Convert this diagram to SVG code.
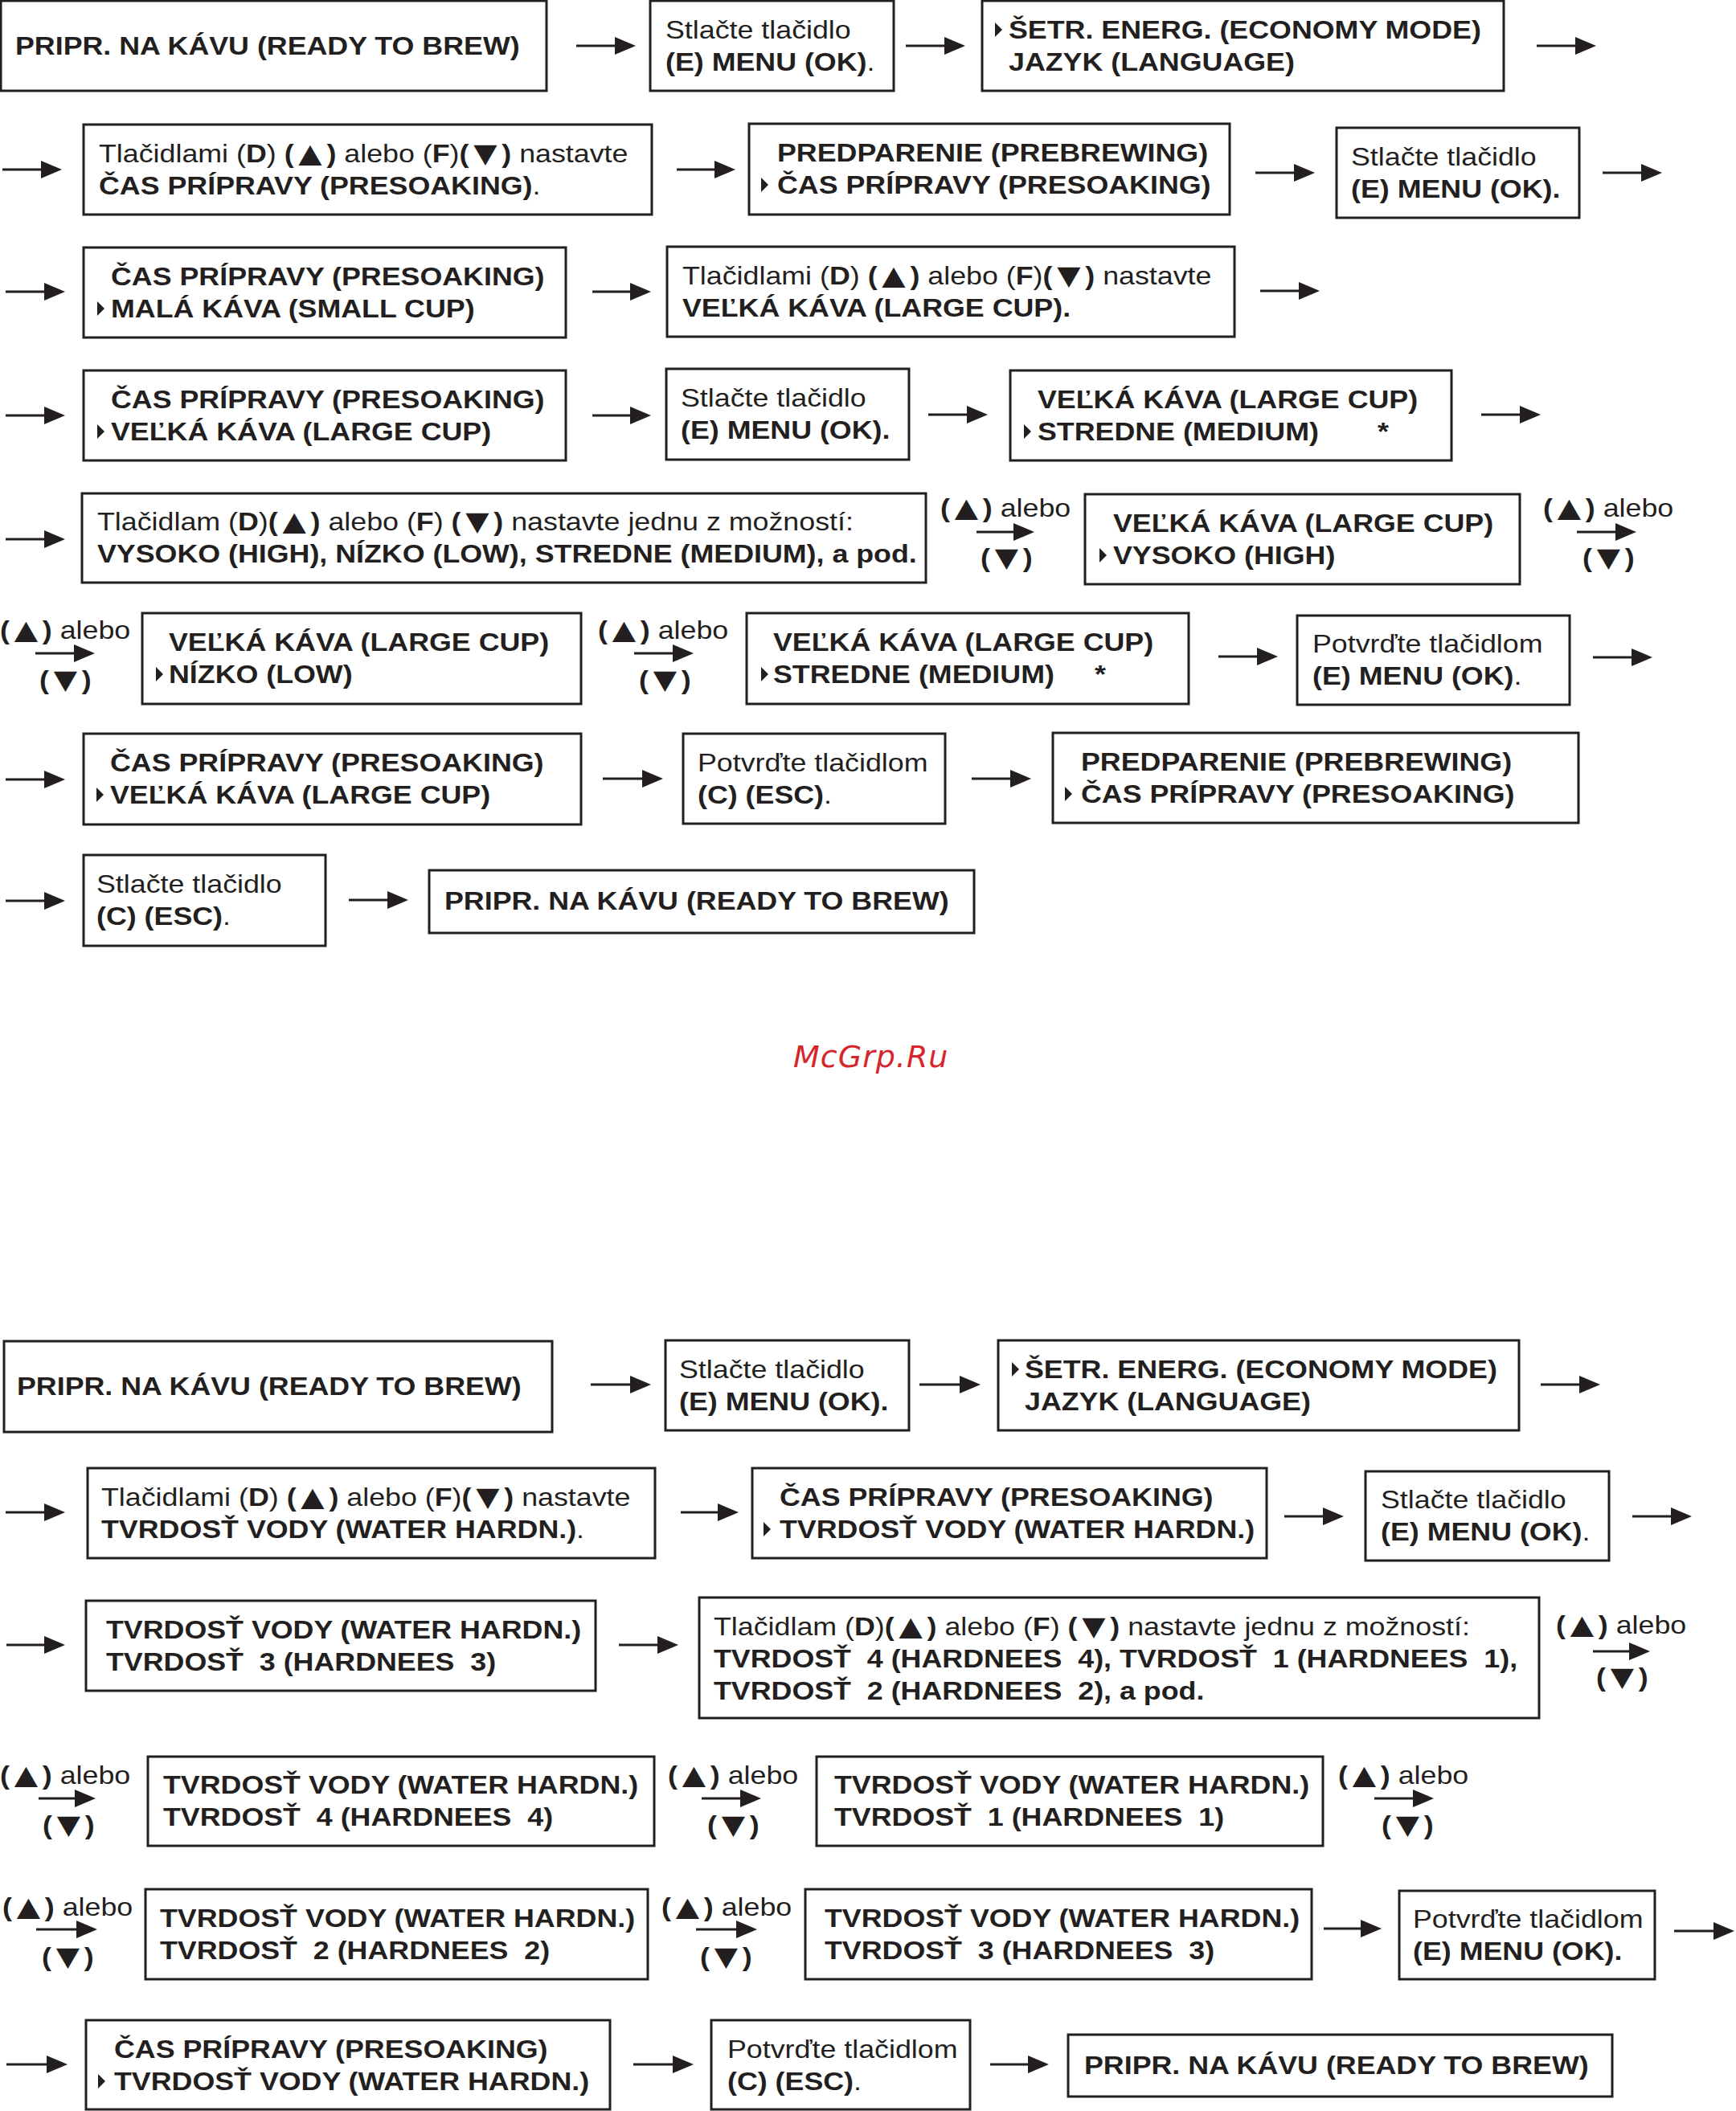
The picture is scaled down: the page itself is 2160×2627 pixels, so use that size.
<svg xmlns="http://www.w3.org/2000/svg" xmlns:xlink="http://www.w3.org/1999/xlink" width="2160" height="2627" viewBox="0 0 2160 2627">
<style>
.t{font-family:"Liberation Sans",Arial,sans-serif;font-size:31px;fill:#231f20;white-space:pre}
.b{font-weight:bold}
.tri{font-family:"DejaVu Sans",sans-serif;font-size:33px}
.box{fill:#fff;stroke:#231f20;stroke-width:3}
.ar{fill:none;stroke:#231f20;stroke-width:3;marker-end:url(#ah)}
.wm{font-family:"DejaVu Sans",Verdana,sans-serif;font-style:italic;font-size:38px;fill:#d6262b;letter-spacing:1px}
</style>
<defs>
<marker id="ah" markerUnits="userSpaceOnUse" markerWidth="26" markerHeight="22" refX="14" refY="11" orient="auto"><path d="M0,0 L26,11 L0,22 Z" fill="#231f20"/></marker>
<path id="ptr" d="M0,-20 L9,-11 L0,-2 Z" fill="#231f20"/>
</defs>
<rect width="2160" height="2627" fill="#fff"/>
<g id="connectors">
<path class="ar" d="M717,57 H779"/>
<path class="ar" d="M1127,57 H1189"/>
<path class="ar" d="M1912,57 H1974"/>
<path class="ar" d="M3,211 H65"/>
<path class="ar" d="M842,211 H903"/>
<path class="ar" d="M1562,215 H1624"/>
<path class="ar" d="M1994,215 H2056"/>
<path class="ar" d="M7,363 H69"/>
<path class="ar" d="M737,363 H798"/>
<path class="ar" d="M1568,362 H1630"/>
<path class="ar" d="M7,517 H69"/>
<path class="ar" d="M737,517 H798"/>
<path class="ar" d="M1155,516 H1217"/>
<path class="ar" d="M1843,516 H1905"/>
<path class="ar" d="M7,671 H69"/>
<path class="ar" d="M1215,662 H1275"/>
<path class="ar" d="M1962,662 H2024"/>
<path class="ar" d="M44,813 H106"/>
<path class="ar" d="M789,813 H851"/>
<path class="ar" d="M1516,817 H1578"/>
<path class="ar" d="M1982,818 H2044"/>
<path class="ar" d="M7,970 H69"/>
<path class="ar" d="M750,969 H813"/>
<path class="ar" d="M1209,969 H1271"/>
<path class="ar" d="M7,1121 H69"/>
<path class="ar" d="M434,1120 H496"/>
<path class="ar" d="M735,1723 H798"/>
<path class="ar" d="M1144,1723 H1208"/>
<path class="ar" d="M1917,1723 H1979"/>
<path class="ar" d="M7,1882 H69"/>
<path class="ar" d="M847,1882 H907"/>
<path class="ar" d="M1598,1887 H1660"/>
<path class="ar" d="M2031,1887 H2093"/>
<path class="ar" d="M8,2047 H69"/>
<path class="ar" d="M770,2047 H832"/>
<path class="ar" d="M1982,2055 H2041"/>
<path class="ar" d="M48,2238 H107"/>
<path class="ar" d="M873,2238 H935"/>
<path class="ar" d="M1710,2238 H1772"/>
<path class="ar" d="M45,2401 H109"/>
<path class="ar" d="M866,2401 H930"/>
<path class="ar" d="M1647,2400 H1707"/>
<path class="ar" d="M2083,2403 H2146"/>
<path class="ar" d="M8,2569 H72"/>
<path class="ar" d="M788,2569 H851"/>
<path class="ar" d="M1232,2569 H1293"/>
</g>
<g id="n1"><rect class="box" x="1" y="1" width="679" height="112"/><text class="t b" transform="matrix(1.155 0 0 1 19 68)">PRIPR. NA KÁVU (READY TO BREW)</text></g>
<g id="n2"><rect class="box" x="809" y="1" width="303" height="112"/><text class="t" transform="matrix(1.155 0 0 1 828 48)">Stlačte tlačidlo</text><text class="t" transform="matrix(1.155 0 0 1 828 88)"><tspan class="b">(E) MENU (OK)</tspan>.</text></g>
<g id="n3"><rect class="box" x="1222" y="1" width="649" height="112"/><use href="#ptr" x="1238" y="48"/><text class="t b" transform="matrix(1.155 0 0 1 1255 48)">ŠETR. ENERG. (ECONOMY MODE)</text><text class="t b" transform="matrix(1.155 0 0 1 1255 88)">JAZYK (LANGUAGE)</text></g>
<g id="n4"><rect class="box" x="104" y="155" width="707" height="112"/><text class="t" transform="matrix(1.155 0 0 1 123 202)">Tlačidlami (<tspan class="b">D</tspan>) <tspan class="b">(<tspan class="tri" dx="5">▲</tspan><tspan dx="5">)</tspan></tspan> alebo (<tspan class="b">F</tspan>)<tspan class="b">(<tspan class="tri" dx="5">▼</tspan><tspan dx="5">)</tspan></tspan> nastavte</text><text class="t" transform="matrix(1.155 0 0 1 123 242)"><tspan class="b">ČAS PRÍPRAVY (PRESOAKING)</tspan>.</text></g>
<g id="n5"><rect class="box" x="932" y="154" width="598" height="113"/><text class="t b" transform="matrix(1.155 0 0 1 967 201)">PREDPARENIE (PREBREWING)</text><use href="#ptr" x="947" y="241"/><text class="t b" transform="matrix(1.155 0 0 1 967 241)">ČAS PRÍPRAVY (PRESOAKING)</text></g>
<g id="n6"><rect class="box" x="1663" y="159" width="302" height="112"/><text class="t" transform="matrix(1.155 0 0 1 1681 206)">Stlačte tlačidlo</text><text class="t b" transform="matrix(1.155 0 0 1 1681 246)">(E) MENU (OK).</text></g>
<g id="n7"><rect class="box" x="104" y="308" width="600" height="112"/><text class="t b" transform="matrix(1.155 0 0 1 138 355)">ČAS PRÍPRAVY (PRESOAKING)</text><use href="#ptr" x="121" y="395"/><text class="t b" transform="matrix(1.155 0 0 1 138 395)">MALÁ KÁVA (SMALL CUP)</text></g>
<g id="n8"><rect class="box" x="830" y="307" width="706" height="112"/><text class="t" transform="matrix(1.155 0 0 1 849 354)">Tlačidlami (<tspan class="b">D</tspan>) <tspan class="b">(<tspan class="tri" dx="5">▲</tspan><tspan dx="5">)</tspan></tspan> alebo (<tspan class="b">F</tspan>)<tspan class="b">(<tspan class="tri" dx="5">▼</tspan><tspan dx="5">)</tspan></tspan> nastavte</text><text class="t b" transform="matrix(1.155 0 0 1 849 394)">VEĽKÁ KÁVA (LARGE CUP).</text></g>
<g id="n9"><rect class="box" x="104" y="461" width="600" height="112"/><text class="t b" transform="matrix(1.155 0 0 1 138 508)">ČAS PRÍPRAVY (PRESOAKING)</text><use href="#ptr" x="121" y="548"/><text class="t b" transform="matrix(1.155 0 0 1 138 548)">VEĽKÁ KÁVA (LARGE CUP)</text></g>
<g id="n10"><rect class="box" x="829" y="459" width="302" height="113"/><text class="t" transform="matrix(1.155 0 0 1 847 506)">Stlačte tlačidlo</text><text class="t b" transform="matrix(1.155 0 0 1 847 546)">(E) MENU (OK).</text></g>
<g id="n11"><rect class="box" x="1257" y="461" width="549" height="112"/><text class="t b" transform="matrix(1.155 0 0 1 1291 508)">VEĽKÁ KÁVA (LARGE CUP)</text><use href="#ptr" x="1274" y="548"/><text class="t b" transform="matrix(1.155 0 0 1 1291 548)">STREDNE (MEDIUM)</text><text class="t b" transform="matrix(1.155 0 0 1 1714 548)">*</text></g>
<g id="n12"><rect class="box" x="102" y="614" width="1050" height="111"/><text class="t" transform="matrix(1.155 0 0 1 121 660)">Tlačidlam (<tspan class="b">D</tspan>)<tspan class="b">(<tspan class="tri" dx="5">▲</tspan><tspan dx="5">)</tspan></tspan> alebo (<tspan class="b">F</tspan>) <tspan class="b">(<tspan class="tri" dx="5">▼</tspan><tspan dx="5">)</tspan></tspan> nastavte jednu z možností:</text><text class="t b" transform="matrix(1.155 0 0 1 121 700)">VYSOKO (HIGH), NÍZKO (LOW), STREDNE (MEDIUM), a pod.</text></g>
<g id="l1"><text class="t" transform="matrix(1.155 0 0 1 1170 643)"><tspan class="b">(<tspan class="tri" dx="5">▲</tspan><tspan dx="5">)</tspan></tspan> alebo</text><text class="t b" transform="matrix(1.155 0 0 1 1220 705)">(<tspan class="tri" dx="5">▼</tspan><tspan dx="5">)</tspan></text></g>
<g id="n13"><rect class="box" x="1350" y="615" width="541" height="112"/><text class="t b" transform="matrix(1.155 0 0 1 1385 662)">VEĽKÁ KÁVA (LARGE CUP)</text><use href="#ptr" x="1368" y="702"/><text class="t b" transform="matrix(1.155 0 0 1 1385 702)">VYSOKO (HIGH)</text></g>
<g id="l2"><text class="t" transform="matrix(1.155 0 0 1 1920 643)"><tspan class="b">(<tspan class="tri" dx="5">▲</tspan><tspan dx="5">)</tspan></tspan> alebo</text><text class="t b" transform="matrix(1.155 0 0 1 1969 705)">(<tspan class="tri" dx="5">▼</tspan><tspan dx="5">)</tspan></text></g>
<g id="l3"><text class="t" transform="matrix(1.155 0 0 1 0 795)"><tspan class="b">(<tspan class="tri" dx="5">▲</tspan><tspan dx="5">)</tspan></tspan> alebo</text><text class="t b" transform="matrix(1.155 0 0 1 49 857)">(<tspan class="tri" dx="5">▼</tspan><tspan dx="5">)</tspan></text></g>
<g id="n14"><rect class="box" x="177" y="763" width="546" height="113"/><text class="t b" transform="matrix(1.155 0 0 1 210 810)">VEĽKÁ KÁVA (LARGE CUP)</text><use href="#ptr" x="194" y="850"/><text class="t b" transform="matrix(1.155 0 0 1 210 850)">NÍZKO (LOW)</text></g>
<g id="l4"><text class="t" transform="matrix(1.155 0 0 1 744 795)"><tspan class="b">(<tspan class="tri" dx="5">▲</tspan><tspan dx="5">)</tspan></tspan> alebo</text><text class="t b" transform="matrix(1.155 0 0 1 795 857)">(<tspan class="tri" dx="5">▼</tspan><tspan dx="5">)</tspan></text></g>
<g id="n15"><rect class="box" x="929" y="763" width="550" height="113"/><text class="t b" transform="matrix(1.155 0 0 1 962 810)">VEĽKÁ KÁVA (LARGE CUP)</text><use href="#ptr" x="947" y="850"/><text class="t b" transform="matrix(1.155 0 0 1 962 850)">STREDNE (MEDIUM)</text><text class="t b" transform="matrix(1.155 0 0 1 1362 850)">*</text></g>
<g id="n16"><rect class="box" x="1614" y="766" width="339" height="111"/><text class="t" transform="matrix(1.155 0 0 1 1633 812)">Potvrďte tlačidlom</text><text class="t" transform="matrix(1.155 0 0 1 1633 852)"><tspan class="b">(E) MENU (OK)</tspan>.</text></g>
<g id="n17"><rect class="box" x="104" y="913" width="619" height="113"/><text class="t b" transform="matrix(1.155 0 0 1 137 960)">ČAS PRÍPRAVY (PRESOAKING)</text><use href="#ptr" x="120" y="1000"/><text class="t b" transform="matrix(1.155 0 0 1 137 1000)">VEĽKÁ KÁVA (LARGE CUP)</text></g>
<g id="n18"><rect class="box" x="850" y="913" width="326" height="112"/><text class="t" transform="matrix(1.155 0 0 1 868 960)">Potvrďte tlačidlom</text><text class="t" transform="matrix(1.155 0 0 1 868 1000)"><tspan class="b">(C) (ESC)</tspan>.</text></g>
<g id="n19"><rect class="box" x="1310" y="912" width="654" height="112"/><text class="t b" transform="matrix(1.155 0 0 1 1345 959)">PREDPARENIE (PREBREWING)</text><use href="#ptr" x="1325" y="999"/><text class="t b" transform="matrix(1.155 0 0 1 1345 999)">ČAS PRÍPRAVY (PRESOAKING)</text></g>
<g id="n20"><rect class="box" x="104" y="1064" width="301" height="113"/><text class="t" transform="matrix(1.155 0 0 1 120 1111)">Stlačte tlačidlo</text><text class="t" transform="matrix(1.155 0 0 1 120 1151)"><tspan class="b">(C) (ESC)</tspan>.</text></g>
<g id="n21"><rect class="box" x="534" y="1083" width="678" height="78"/><text class="t b" transform="matrix(1.155 0 0 1 553 1132)">PRIPR. NA KÁVU (READY TO BREW)</text></g>
<text class="wm" x="987" y="1328">McGrp.Ru</text>
<g id="n22"><rect class="box" x="5" y="1669" width="682" height="113"/><text class="t b" transform="matrix(1.155 0 0 1 21 1736)">PRIPR. NA KÁVU (READY TO BREW)</text></g>
<g id="n23"><rect class="box" x="828" y="1668" width="303" height="112"/><text class="t" transform="matrix(1.155 0 0 1 845 1715)">Stlačte tlačidlo</text><text class="t b" transform="matrix(1.155 0 0 1 845 1755)">(E) MENU (OK).</text></g>
<g id="n24"><rect class="box" x="1242" y="1668" width="648" height="112"/><use href="#ptr" x="1259" y="1715"/><text class="t b" transform="matrix(1.155 0 0 1 1275 1715)">ŠETR. ENERG. (ECONOMY MODE)</text><text class="t b" transform="matrix(1.155 0 0 1 1275 1755)">JAZYK (LANGUAGE)</text></g>
<g id="n25"><rect class="box" x="109" y="1827" width="706" height="112"/><text class="t" transform="matrix(1.155 0 0 1 126 1874)">Tlačidlami (<tspan class="b">D</tspan>) <tspan class="b">(<tspan class="tri" dx="5">▲</tspan><tspan dx="5">)</tspan></tspan> alebo (<tspan class="b">F</tspan>)<tspan class="b">(<tspan class="tri" dx="5">▼</tspan><tspan dx="5">)</tspan></tspan> nastavte</text><text class="t" transform="matrix(1.155 0 0 1 126 1914)"><tspan class="b">TVRDOSŤ VODY (WATER HARDN.)</tspan>.</text></g>
<g id="n26"><rect class="box" x="936" y="1827" width="640" height="112"/><text class="t b" transform="matrix(1.155 0 0 1 970 1874)">ČAS PRÍPRAVY (PRESOAKING)</text><use href="#ptr" x="950" y="1914"/><text class="t b" transform="matrix(1.155 0 0 1 970 1914)">TVRDOSŤ VODY (WATER HARDN.)</text></g>
<g id="n27"><rect class="box" x="1699" y="1831" width="303" height="111"/><text class="t" transform="matrix(1.155 0 0 1 1718 1877)">Stlačte tlačidlo</text><text class="t" transform="matrix(1.155 0 0 1 1718 1917)"><tspan class="b">(E) MENU (OK)</tspan>.</text></g>
<g id="n28"><rect class="box" x="107" y="1992" width="634" height="112"/><text class="t b" transform="matrix(1.155 0 0 1 132 2039)">TVRDOSŤ VODY (WATER HARDN.)</text><text class="t b" transform="matrix(1.155 0 0 1 132 2079)">TVRDOSŤ  3 (HARDNEES  3)</text></g>
<g id="n29"><rect class="box" x="870" y="1988" width="1045" height="150"/><text class="t" transform="matrix(1.155 0 0 1 888 2035)">Tlačidlam (<tspan class="b">D</tspan>)<tspan class="b">(<tspan class="tri" dx="5">▲</tspan><tspan dx="5">)</tspan></tspan> alebo (<tspan class="b">F</tspan>) <tspan class="b">(<tspan class="tri" dx="5">▼</tspan><tspan dx="5">)</tspan></tspan> nastavte jednu z možností:</text><text class="t b" transform="matrix(1.155 0 0 1 888 2075)">TVRDOSŤ  4 (HARDNEES  4), TVRDOSŤ  1 (HARDNEES  1),</text><text class="t b" transform="matrix(1.155 0 0 1 888 2115)">TVRDOSŤ  2 (HARDNEES  2), a pod.</text></g>
<g id="l5"><text class="t" transform="matrix(1.155 0 0 1 1936 2033)"><tspan class="b">(<tspan class="tri" dx="5">▲</tspan><tspan dx="5">)</tspan></tspan> alebo</text><text class="t b" transform="matrix(1.155 0 0 1 1986 2098)">(<tspan class="tri" dx="5">▼</tspan><tspan dx="5">)</tspan></text></g>
<g id="l6"><text class="t" transform="matrix(1.155 0 0 1 0 2220)"><tspan class="b">(<tspan class="tri" dx="5">▲</tspan><tspan dx="5">)</tspan></tspan> alebo</text><text class="t b" transform="matrix(1.155 0 0 1 53 2282)">(<tspan class="tri" dx="5">▼</tspan><tspan dx="5">)</tspan></text></g>
<g id="n30"><rect class="box" x="184" y="2186" width="630" height="111"/><text class="t b" transform="matrix(1.155 0 0 1 203 2232)">TVRDOSŤ VODY (WATER HARDN.)</text><text class="t b" transform="matrix(1.155 0 0 1 203 2272)">TVRDOSŤ  4 (HARDNEES  4)</text></g>
<g id="l7"><text class="t" transform="matrix(1.155 0 0 1 831 2220)"><tspan class="b">(<tspan class="tri" dx="5">▲</tspan><tspan dx="5">)</tspan></tspan> alebo</text><text class="t b" transform="matrix(1.155 0 0 1 880 2282)">(<tspan class="tri" dx="5">▼</tspan><tspan dx="5">)</tspan></text></g>
<g id="n31"><rect class="box" x="1016" y="2186" width="630" height="111"/><text class="t b" transform="matrix(1.155 0 0 1 1038 2232)">TVRDOSŤ VODY (WATER HARDN.)</text><text class="t b" transform="matrix(1.155 0 0 1 1038 2272)">TVRDOSŤ  1 (HARDNEES  1)</text></g>
<g id="l8"><text class="t" transform="matrix(1.155 0 0 1 1665 2220)"><tspan class="b">(<tspan class="tri" dx="5">▲</tspan><tspan dx="5">)</tspan></tspan> alebo</text><text class="t b" transform="matrix(1.155 0 0 1 1719 2282)">(<tspan class="tri" dx="5">▼</tspan><tspan dx="5">)</tspan></text></g>
<g id="l9"><text class="t" transform="matrix(1.155 0 0 1 3 2384)"><tspan class="b">(<tspan class="tri" dx="5">▲</tspan><tspan dx="5">)</tspan></tspan> alebo</text><text class="t b" transform="matrix(1.155 0 0 1 52 2446)">(<tspan class="tri" dx="5">▼</tspan><tspan dx="5">)</tspan></text></g>
<g id="n32"><rect class="box" x="181" y="2351" width="625" height="112"/><text class="t b" transform="matrix(1.155 0 0 1 199 2398)">TVRDOSŤ VODY (WATER HARDN.)</text><text class="t b" transform="matrix(1.155 0 0 1 199 2438)">TVRDOSŤ  2 (HARDNEES  2)</text></g>
<g id="l10"><text class="t" transform="matrix(1.155 0 0 1 823 2384)"><tspan class="b">(<tspan class="tri" dx="5">▲</tspan><tspan dx="5">)</tspan></tspan> alebo</text><text class="t b" transform="matrix(1.155 0 0 1 871 2446)">(<tspan class="tri" dx="5">▼</tspan><tspan dx="5">)</tspan></text></g>
<g id="n33"><rect class="box" x="1002" y="2351" width="630" height="112"/><text class="t b" transform="matrix(1.155 0 0 1 1026 2398)">TVRDOSŤ VODY (WATER HARDN.)</text><text class="t b" transform="matrix(1.155 0 0 1 1026 2438)">TVRDOSŤ  3 (HARDNEES  3)</text></g>
<g id="n34"><rect class="box" x="1741" y="2353" width="318" height="110"/><text class="t" transform="matrix(1.155 0 0 1 1758 2399)">Potvrďte tlačidlom</text><text class="t b" transform="matrix(1.155 0 0 1 1758 2439)">(E) MENU (OK).</text></g>
<g id="n35"><rect class="box" x="107" y="2514" width="652" height="111"/><text class="t b" transform="matrix(1.155 0 0 1 142 2561)">ČAS PRÍPRAVY (PRESOAKING)</text><use href="#ptr" x="122" y="2601"/><text class="t b" transform="matrix(1.155 0 0 1 142 2601)">TVRDOSŤ VODY (WATER HARDN.)</text></g>
<g id="n36"><rect class="box" x="885" y="2514" width="322" height="111"/><text class="t" transform="matrix(1.155 0 0 1 905 2561)">Potvrďte tlačidlom</text><text class="t" transform="matrix(1.155 0 0 1 905 2601)"><tspan class="b">(C) (ESC)</tspan>.</text></g>
<g id="n37"><rect class="box" x="1329" y="2532" width="677" height="77"/><text class="t b" transform="matrix(1.155 0 0 1 1349 2581)">PRIPR. NA KÁVU (READY TO BREW)</text></g>
</svg>
